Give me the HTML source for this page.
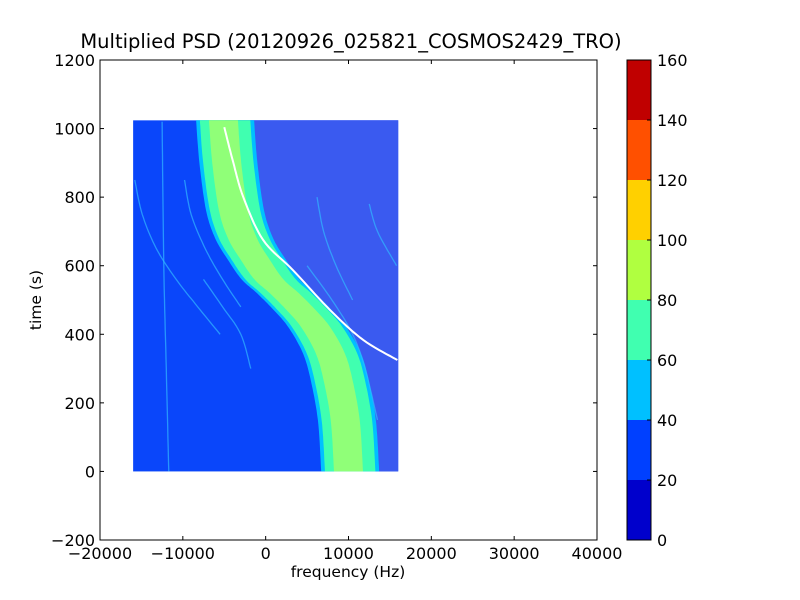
<!DOCTYPE html>
<html><head><meta charset="utf-8"><style>
body{margin:0;background:#fff;}
svg{display:block;font-family:"DejaVu Sans","Liberation Sans",sans-serif;}
</style></head><body>
<svg id="chart" width="800" height="600" xmlns="http://www.w3.org/2000/svg"></svg>
<script>
const xTicks=[-20000,-10000,0,10000,20000,30000,40000];
const yTicks=[-200,0,200,400,600,800,1000,1200];
const cbLevels=[0,20,40,60,80,100,120,140,160];
const cbColors=['#0000cc','#0040ff','#00c0ff','#40ffb0','#b0ff40','#ffd000','#ff5000','#c00000'];
const bandT=[1024,900,762,680,617,560,520,470,422,350,276,150,0];
const bandF=[-4900,-4500,-3700,-2600,-1050,600,2450,4500,6200,7900,8850,9800,10200];
const bandHalf=3500;
const whiteT=[1004,900,800,675,587,470,383,325];
const whiteF=[-5000,-3900,-2700,-300,3300,7800,11800,15900];
const faintLines=[
 {t:[850,750,650,560,480,400],f:[-15800,-14900,-13200,-10800,-8200,-5500]},
 {t:[850,750,650,560,480],f:[-9800,-9000,-7300,-5200,-3000]},
 {t:[1020,600,300,0],f:[-12500,-12300,-12000,-11700]},
 {t:[800,700,600,500],f:[6200,7000,8500,10500]},
 {t:[780,700,600],f:[12500,13500,15800]},
 {t:[600,500,400,300,150],f:[5000,8000,10500,12000,13500]},
 {t:[560,480,400,300],f:[-7500,-5200,-3000,-1800]}
];
const X0=100,X1=597,Y0=60,Y1=540;
const xs=f=>X0+(f+20000)/60000*(X1-X0);
const ys=t=>Y1-(t+200)/1400*(Y1-Y0);
const svg=document.getElementById('chart');
const NS='http://www.w3.org/2000/svg';
function mk(tag,attrs,txt){const e=document.createElementNS(NS,tag);for(const k in attrs)e.setAttribute(k,attrs[k]);if(txt!==undefined)e.textContent=txt;svg.appendChild(e);return e;}
function smooth(P){const out=[];for(let i=0;i<P.length-1;i++){const p0=P[Math.max(0,i-1)],p1=P[i],p2=P[i+1],p3=P[Math.min(P.length-1,i+2)];
 for(let s=0;s<10;s++){const u=s/10,u2=u*u,u3=u2*u;
  out.push([0.5*(2*p1[0]+(-p0[0]+p2[0])*u+(2*p0[0]-5*p1[0]+4*p2[0]-p3[0])*u2+(-p0[0]+3*p1[0]-3*p2[0]+p3[0])*u3),
            0.5*(2*p1[1]+(-p0[1]+p2[1])*u+(2*p0[1]-5*p1[1]+4*p2[1]-p3[1])*u2+(-p0[1]+3*p1[1]-3*p2[1]+p3[1])*u3)]);}}
 out.push(P[P.length-1]);return out;}
const pts=a=>a.map(p=>p[0].toFixed(1)+','+p[1].toFixed(1)).join(' ');
let e=mk('rect',{x:xs(-16000),y:ys(1024),width:xs(16000)-xs(-16000),height:ys(0)-ys(1024),fill:'#0a46fa'});


let rp=smooth(bandT.map((t,i)=>[xs(bandF[i]),ys(t)]));
rp.push([xs(16000),ys(0)]);rp.push([xs(16000),ys(1024)]);
e=mk('polygon',{points:pts(rp),fill:'#3a5af0'});


function band(frac,off,color,name){
 const l=smooth(bandT.map((t,i)=>[xs(bandF[i]+off-bandHalf*frac),ys(t)]));
 const r=smooth(bandT.map((t,i)=>[xs(bandF[i]+off+bandHalf*frac),ys(t)])).reverse();
 const p=mk('polygon',{points:pts(l.concat(r)),fill:color});
 
 
}
band(1.0,0,'#00c0ff','band-outer');
band(0.87,0,'#40ffb0','band-mid');
band(0.5,-200,'#90ff78','band-core');
faintLines.forEach((ln,k)=>{
 const p=mk('polyline',{points:pts(smooth(ln.t.map((t,i)=>[xs(ln.f[i]),ys(t)]))),fill:'none',stroke:'#30b8ff','stroke-width':1.3,opacity:0.7});
 
 
});
e=mk('polyline',{points:pts(smooth(whiteT.map((t,i)=>[xs(whiteF[i]),ys(t)]))),fill:'none',stroke:'#fff','stroke-width':2});


e=mk('rect',{x:X0,y:Y0,width:X1-X0,height:Y1-Y0,fill:'none',stroke:'#000','stroke-width':1});


xTicks.forEach(v=>{const x=xs(v);
 mk('line',{x1:x,y1:Y1,x2:x,y2:Y1-4,stroke:'#000'});mk('line',{x1:x,y1:Y0,x2:x,y2:Y0+4,stroke:'#000'});
 const t=mk('text',{x:x,y:Y1+19,'text-anchor':'middle','font-size':16},v<0?'\u2212'+(-v):v);
 
 
});
yTicks.forEach(v=>{const y=ys(v);
 mk('line',{x1:X0,y1:y,x2:X0+4,y2:y,stroke:'#000'});mk('line',{x1:X1,y1:y,x2:X1-4,y2:y,stroke:'#000'});
 const t=mk('text',{x:X0-5,y:y+6,'text-anchor':'end','font-size':16},v<0?'\u2212'+(-v):v);
 
 
});
e=mk('text',{x:348,y:577,'text-anchor':'middle','font-size':15.5},'frequency (Hz)');


e=mk('text',{x:41,y:300,'text-anchor':'middle','font-size':15.5,transform:'rotate(-90 41 300)'},'time (s)');


e=mk('text',{x:351,y:48,'text-anchor':'middle','font-size':19.5},'Multiplied PSD (20120926_025821_COSMOS2429_TRO)');


const CX=627,CW=24,cy=v=>540-(v/160)*480;
cbColors.forEach((c,i)=>{
 const r=mk('rect',{x:CX,y:cy(cbLevels[i+1]),width:CW,height:cy(cbLevels[i])-cy(cbLevels[i+1]),fill:c});
 
 
});
e=mk('rect',{x:CX,y:60,width:CW,height:480,fill:'none',stroke:'#000'});


cbLevels.forEach(v=>{const y=cy(v);
 mk('line',{x1:CX+CW-4,y1:y,x2:CX+CW,y2:y,stroke:'#000'});
 const t=mk('text',{x:CX+CW+6,y:y+6,'font-size':16},v);
 
 
});
</script>
</body></html>
